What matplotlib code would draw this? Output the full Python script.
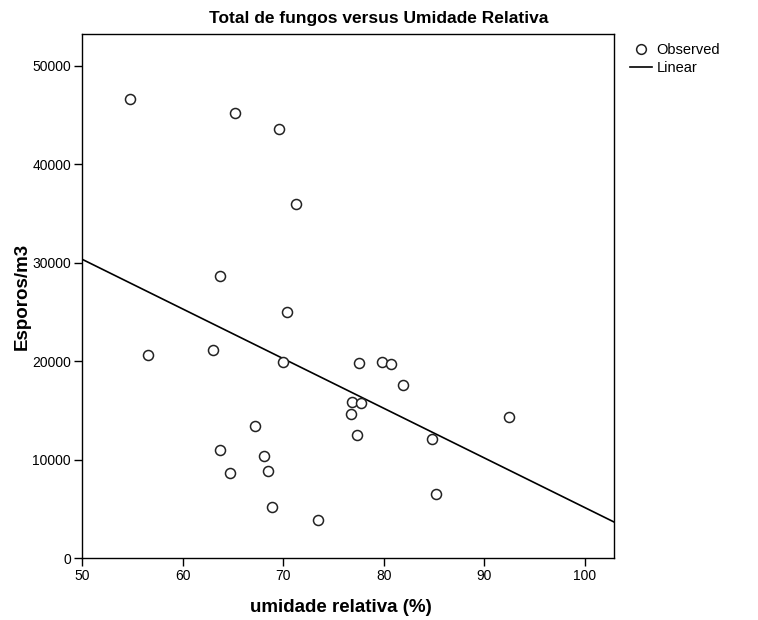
import numpy as np
import matplotlib
matplotlib.use("Agg")
import matplotlib.pyplot as plt
from matplotlib.lines import Line2D

plt.rcParams["font.family"] = ["Liberation Sans", "DejaVu Sans"]

# ---------------- DADOS ----------------
umidade = [54.80, 65.21, 69.58, 71.27, 63.69, 70.41, 56.59, 63.05, 69.95,
           77.53, 79.82, 80.72, 81.88, 76.81, 77.73, 76.71, 92.45, 77.34,
           84.79, 67.17, 63.72, 68.09, 64.71, 68.49, 85.19, 68.86, 73.46]
esporos = [46650, 45220, 43600, 35980, 28610, 25000, 20680, 21140, 19870,
           19820, 19920, 19720, 17580, 15880, 15780, 14670, 14330, 12500,
           12090, 13440, 10980, 10400, 8640, 8840, 6530, 5180, 3860]

x_ticks = [50, 60, 70, 80, 90, 100]
y_ticks = [0, 10000, 20000, 30000, 40000, 50000]
x_lim = (50, 102.9)
y_lim = (0, 53250)

# ajuste linear (mínimos quadrados)
coef = np.polyfit(umidade, esporos, 1)
xs = np.array(x_lim)
ys = np.polyval(coef, xs)

# ---------------- GRÁFICO ----------------
W, H = 758, 620
fig = plt.figure(figsize=(W / 100, H / 100), dpi=100)
ax = fig.add_axes([82 / W, 1 - 558 / H, (614 - 82) / W, (558 - 34) / H])

ax.scatter(umidade, esporos, s=52, facecolors="white", edgecolors="#222222",
           linewidths=1.1, zorder=3)
ax.plot(xs, ys, color="black", lw=1.2, zorder=2)

ax.set_xlim(*x_lim)
ax.set_ylim(*y_lim)
ax.set_xticks(x_ticks)
ax.set_yticks(y_ticks)
ax.tick_params(direction="out", length=6, width=1, labelsize=10, colors="black", pad=2)
for s in ax.spines.values():
    s.set_linewidth(1)

fig.text(0.5, 1 - 18 / H, "Total de fungos versus Umidade Relativa",
         fontsize=12.5, fontweight="bold", ha="center", va="center")
ax.set_xlabel("umidade relativa (%)", fontsize=13.5, fontweight="bold")
ax.xaxis.set_label_coords((341 - 82) / (614 - 82), -0.078)
ax.set_ylabel("Esporos/m3", fontsize=13.5, fontweight="bold", labelpad=1)

handles = [
    Line2D([], [], ls="none", marker="o", markersize=7, markerfacecolor="white",
           markeredgecolor="#222222", markeredgewidth=1.1),
    Line2D([], [], color="black", lw=1.2),
]
fig.legend(handles, ["Observed", "Linear"], loc="upper left",
           bbox_to_anchor=(630 / W, 1 - 43 / H), frameon=False,
           fontsize=10.5, handlelength=1.5, handletextpad=0.3, labelspacing=0.25,
           borderaxespad=0, borderpad=0)

fig.savefig("out.png", dpi=100)
